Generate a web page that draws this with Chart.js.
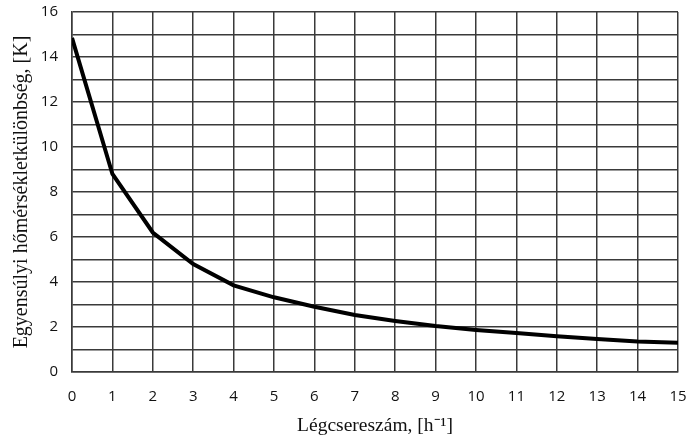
<!DOCTYPE html>
<html>
<head>
<meta charset="utf-8">
<script src="https://cdn.jsdelivr.net/npm/chart.js@4"></script>
<style>
  html, body { margin: 0; padding: 0; background: #fff; }
  #wrap { width: 689px; height: 438px; }
</style>
</head>
<body>
<div id="wrap"><canvas id="chart" width="689" height="438"></canvas></div>
<script>
const legcsere = [0, 1, 2, 3, 4, 5, 6, 7, 8, 9, 10, 11, 12, 13, 14, 15];
const homerseklet = [14.85, 8.8, 6.2, 4.8, 3.85, 3.32, 2.9, 2.53, 2.27, 2.04, 1.87, 1.73, 1.59, 1.47, 1.36, 1.3];

const xTitle = 'Légcsereszám, [h⁻¹]';
const yTitle = 'Egyensúlyi hőmérsékletkülönbség, [K]';

const gridCol = '#3a3a3a';
const tickFont = { family: '"Open Sans", sans-serif', size: 15 };
const titleFont = { family: '"Liberation Serif", "Times New Roman", serif', size: 20 };

new Chart(document.getElementById('chart'), {
  type: 'line',
  data: {
    datasets: [{
      data: legcsere.map((x, i) => ({ x: x, y: homerseklet[i] })),
      borderColor: '#000',
      borderWidth: 4,
      pointRadius: 0,
      tension: 0,
      fill: false
    }]
  },
  options: {
    responsive: false,
    animation: false,
    layout: { padding: { top: 12, right: 11, left: 0, bottom: 0 } },
    plugins: { legend: { display: false }, tooltip: { enabled: false } },
    scales: {
      x: {
        type: 'linear',
        min: 0, max: 15,
        afterFit: s => { s.height = 66; s.paddingLeft = 0; s.paddingRight = 0; },
        ticks: { stepSize: 1, color: '#111', font: tickFont, padding: 16, maxRotation: 0 },
        grid: { color: gridCol, lineWidth: 1.5, drawTicks: false },
        border: { color: gridCol, width: 1.5 },
        title: { display: true, text: xTitle, color: '#111', font: { ...titleFont, size: 19.5 }, padding: { top: 0, bottom: 0 } }
      },
      y: {
        min: 0, max: 16,
        afterFit: s => { s.width = 72; s.paddingTop = 0; s.paddingBottom = 0; },
        ticks: {
          stepSize: 1, color: '#111', font: tickFont, padding: 14,
          callback: v => (v % 2 === 0 ? v : '')
        },
        grid: { color: gridCol, lineWidth: 1.5, drawTicks: false },
        border: { color: gridCol, width: 1.5 },
        title: { display: true, text: yTitle, color: '#111', font: titleFont, padding: { top: 10, bottom: 0 } }
      }
    }
  }
});
</script>
</body>
</html>
